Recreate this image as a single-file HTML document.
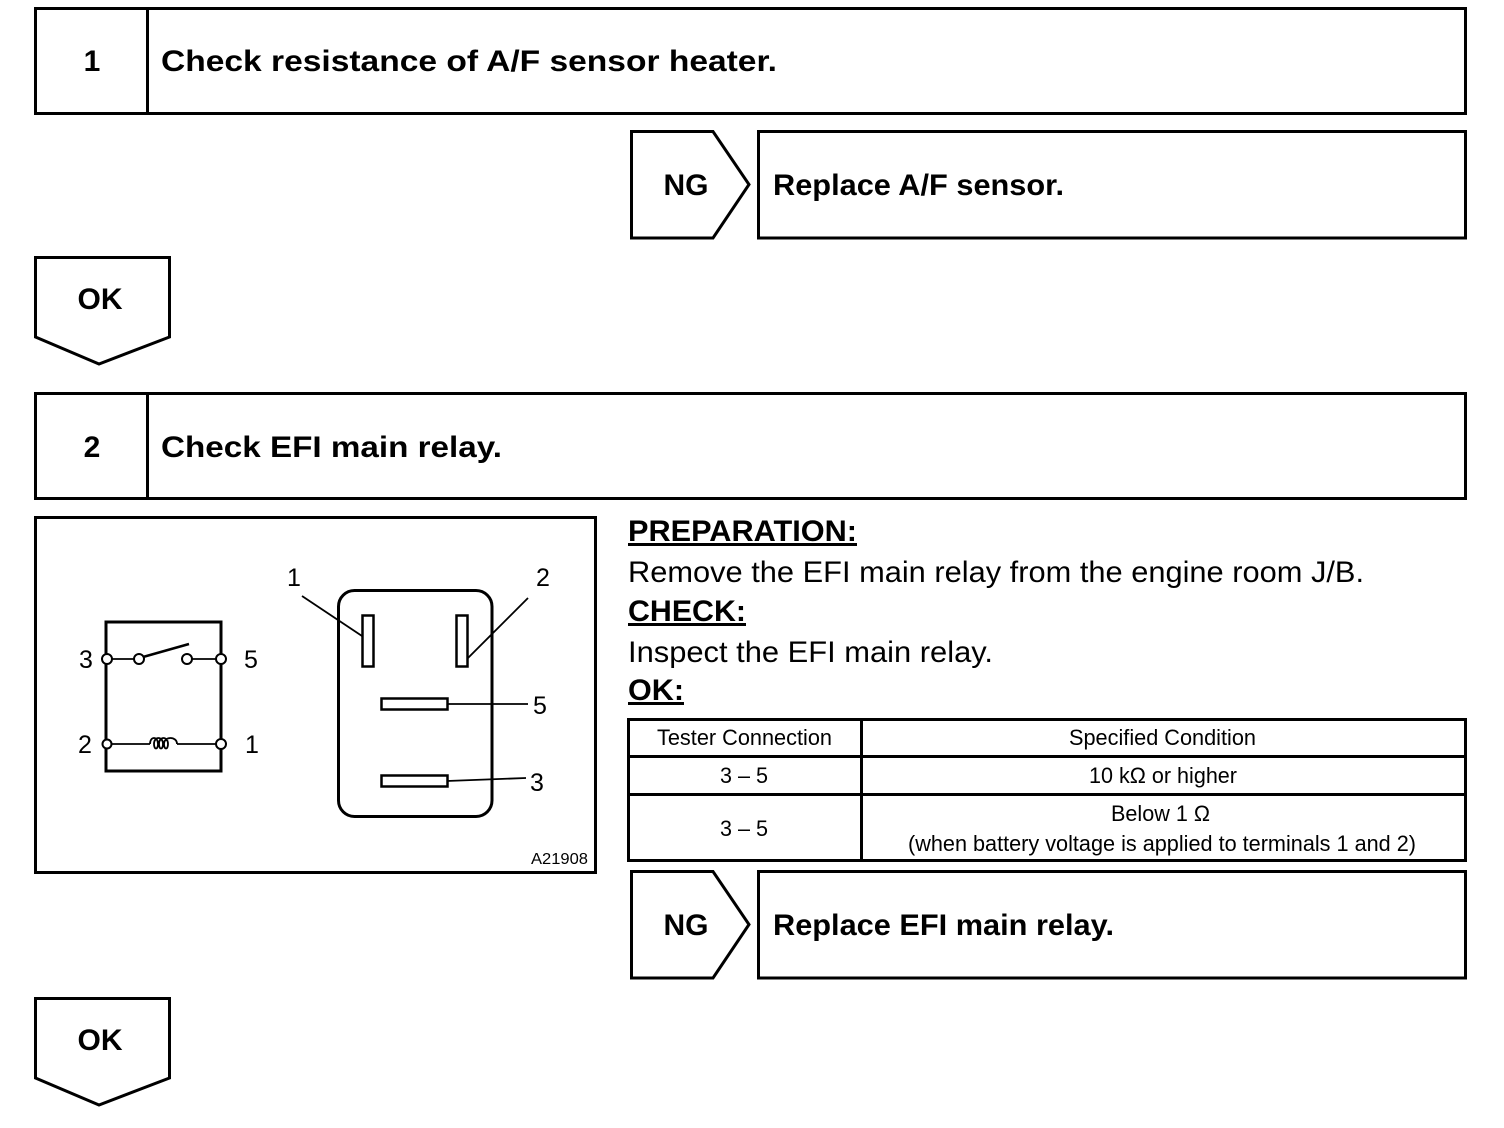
<!DOCTYPE html>
<html><head><meta charset="utf-8"><style>
html,body{margin:0;padding:0;background:#fff;}
svg{display:block;}
text{font-family:"Liberation Sans",Arial,sans-serif;fill:#000;}
.b{font-weight:bold;}
</style></head><body>
<svg width="1504" height="1128" viewBox="0 0 1504 1128" xmlns="http://www.w3.org/2000/svg">
<g fill="none" stroke="#000" stroke-width="3">
<rect x="35.5" y="8.5" width="1430" height="105"/>
<line x1="147.5" y1="8" x2="147.5" y2="114"/>
<polygon points="631.5,131.5 713,131.5 749,184.5 713,238 631.5,238"/>
<rect x="758.5" y="131.5" width="707" height="106.5"/>
<polygon points="35.5,257.5 169.5,257.5 169.5,337 99,364 35.5,337"/>
<rect x="35.5" y="393.5" width="1430" height="105"/>
<line x1="147.5" y1="393" x2="147.5" y2="499"/>
<rect x="35.5" y="517.5" width="560" height="355"/>
<polygon points="631.5,871.5 713,871.5 749,924.5 713,978 631.5,978"/>
<rect x="758.5" y="871.5" width="707" height="106.5"/>
<polygon points="35.5,998.5 169.5,998.5 169.5,1078 99,1105 35.5,1078"/>
<rect x="628.5" y="719.5" width="837" height="141"/>
<line x1="861.5" y1="719" x2="861.5" y2="861"/>
<line x1="628" y1="756.5" x2="1466" y2="756.5"/>
<line x1="628" y1="794.5" x2="1466" y2="794.5"/>
<polyline points="106,659 106,771 221,771 221,659"/>
<polyline points="106,659 106,622 221,622 221,659"/>
<rect x="338.5" y="590.5" width="153.5" height="226" rx="16"/>
<rect x="362.5" y="615.5" width="11" height="51" stroke-width="2.5"/>
<rect x="456.5" y="615.5" width="11" height="51" stroke-width="2.5"/>
<rect x="381.5" y="698.5" width="66" height="11" stroke-width="2.5"/>
<rect x="381.5" y="775.5" width="66" height="11" stroke-width="2.5"/>
</g>
<g fill="none" stroke="#000" stroke-width="1.8">
<line x1="106" y1="659" x2="139" y2="659"/>
<line x1="187" y1="659" x2="221" y2="659"/>
<line x1="143" y1="657" x2="189" y2="644" stroke-width="2.5"/>
<line x1="106" y1="744" x2="150" y2="744"/>
<line x1="177" y1="744" x2="221" y2="744"/>
<path d="M150,744 C150,736 158,736 158,744 C158,750 154,750 154,744 C154,736 163,736 163,744 C163,750 159,750 159,744 C159,736 168,736 168,744 C168,750 164,750 164,744 C164,736 177,736 177,744"/>
<line x1="302" y1="596" x2="362" y2="636"/>
<line x1="528" y1="598" x2="468" y2="658"/>
<line x1="447" y1="704" x2="528" y2="704"/>
<line x1="447" y1="781" x2="526" y2="778"/>
</g>
<g fill="#fff" stroke="#000" stroke-width="2">
<circle cx="107" cy="659" r="5"/><circle cx="139" cy="659" r="5"/>
<circle cx="187" cy="659" r="5"/><circle cx="221" cy="659" r="5"/>
<circle cx="107" cy="744" r="4.5"/><circle cx="221" cy="744" r="5"/>
</g>
<g font-size="25">
<text x="79" y="668">3</text><text x="244" y="668">5</text>
<text x="78" y="753">2</text><text x="245" y="753">1</text>
<text x="287" y="586">1</text><text x="536" y="586">2</text>
<text x="533" y="714">5</text><text x="530" y="791">3</text>
</g>
<text x="531" y="864" font-size="16" textLength="57" lengthAdjust="spacingAndGlyphs">A21908</text>
<g font-size="30">
<text x="92" y="71" text-anchor="middle" class="b">1</text>
<text x="161" y="71" class="b" textLength="616" lengthAdjust="spacingAndGlyphs">Check resistance of A/F sensor heater.</text>
<text x="686" y="195" text-anchor="middle" class="b">NG</text>
<text x="773" y="195" class="b" textLength="291" lengthAdjust="spacingAndGlyphs">Replace A/F sensor.</text>
<text x="100" y="309" text-anchor="middle" class="b">OK</text>
<text x="92" y="457" text-anchor="middle" class="b">2</text>
<text x="161" y="457" class="b" textLength="341" lengthAdjust="spacingAndGlyphs">Check EFI main relay.</text>
<text x="686" y="935" text-anchor="middle" class="b">NG</text>
<text x="773" y="935" class="b" textLength="341" lengthAdjust="spacingAndGlyphs">Replace EFI main relay.</text>
<text x="100" y="1050" text-anchor="middle" class="b">OK</text>
</g>
<g font-size="30">
<text x="628" y="541" class="b" textLength="229" lengthAdjust="spacingAndGlyphs" text-decoration="underline">PREPARATION:</text>
<text x="628" y="582" textLength="736" lengthAdjust="spacingAndGlyphs">Remove the EFI main relay from the engine room J/B.</text>
<text x="628" y="621" class="b" textLength="118" lengthAdjust="spacingAndGlyphs" text-decoration="underline">CHECK:</text>
<text x="628" y="662" textLength="365" lengthAdjust="spacingAndGlyphs">Inspect the EFI main relay.</text>
<text x="628" y="700" class="b" textLength="56" lengthAdjust="spacingAndGlyphs" text-decoration="underline">OK:</text>
</g>
<g font-size="22">
<text x="657" y="745" textLength="175" lengthAdjust="spacingAndGlyphs">Tester Connection</text>
<text x="1069" y="745" textLength="187" lengthAdjust="spacingAndGlyphs">Specified Condition</text>
<text x="720" y="783" textLength="48" lengthAdjust="spacingAndGlyphs">3 – 5</text>
<text x="1089" y="783" textLength="148" lengthAdjust="spacingAndGlyphs">10 kΩ or higher</text>
<text x="1111" y="821" textLength="99" lengthAdjust="spacingAndGlyphs">Below 1 Ω</text>
<text x="720" y="836" textLength="48" lengthAdjust="spacingAndGlyphs">3 – 5</text>
<text x="908" y="851" textLength="508" lengthAdjust="spacingAndGlyphs">(when battery voltage is applied to terminals 1 and 2)</text>
</g>
</svg>
</body></html>
